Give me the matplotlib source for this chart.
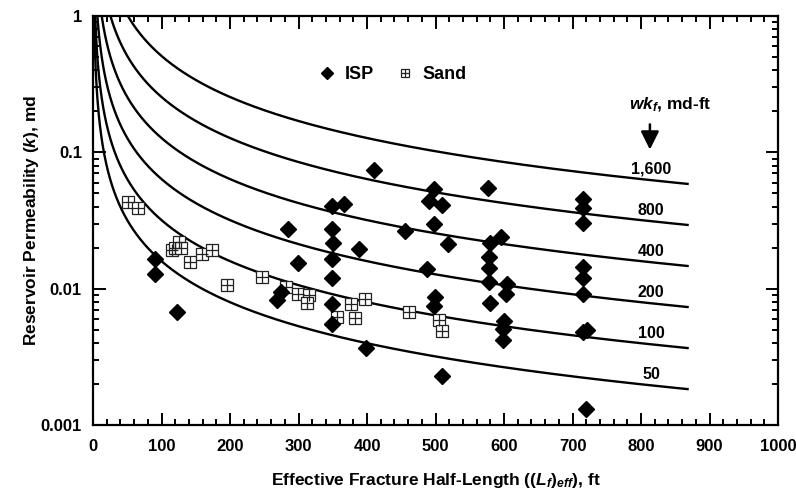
import numpy as np
import matplotlib
matplotlib.use("Agg")
import matplotlib.pyplot as plt

plt.rcParams['font.family'] = ['Liberation Sans', 'DejaVu Sans']
plt.rcParams['font.weight'] = 'bold'
plt.rcParams['mathtext.fontset'] = 'custom'
plt.rcParams['mathtext.rm'] = 'Liberation Sans:bold'
plt.rcParams['mathtext.it'] = 'Liberation Sans:italic:bold'
plt.rcParams['mathtext.bf'] = 'Liberation Sans:bold'

# ---- data ----
isp_x = [90, 90, 123, 268, 274, 285, 299,
         349, 349, 350, 349, 349, 349, 349,
         366, 389, 398, 410, 455, 488,
         490, 498, 498, 499, 498, 509, 509, 518,
         576, 579, 578, 578, 578, 579,
         596, 605, 603, 600, 598, 599,
         715, 715, 715, 715, 715, 715, 721, 715, 719]
isp_k = [0.0166, 0.0129, 0.0067, 0.0082, 0.0095, 0.0275, 0.0153,
         0.0404, 0.0275, 0.0218, 0.0165, 0.0120, 0.0077, 0.0055,
         0.0420, 0.0194, 0.0037, 0.0740, 0.0266, 0.0139,
         0.0439, 0.0534, 0.0298, 0.0087, 0.0074, 0.0408, 0.0023, 0.0212,
         0.0550, 0.0216, 0.0171, 0.0142, 0.0111, 0.0079,
         0.0240, 0.0108, 0.0091, 0.0058, 0.0051, 0.0042,
         0.0452, 0.0393, 0.0305, 0.0145, 0.0120, 0.0091, 0.0050, 0.0048, 0.00132]

sand_x = [51, 65, 115, 120, 125, 128, 142, 159, 174, 196, 247, 282,
          299, 315, 312, 356, 376, 382, 397, 462, 505, 510]
sand_k = [0.0434, 0.0393, 0.0193, 0.0200, 0.0220, 0.0199, 0.0157, 0.0179, 0.0193, 0.0107,
          0.0122, 0.0102, 0.0092, 0.0090, 0.0079, 0.0062, 0.0077, 0.0061, 0.0084,
          0.0068, 0.0059, 0.0049]

wkf_values = [1600, 800, 400, 200, 100, 50]
wkf_labels = ['1,600', '800', '400', '200', '100', '50']
curve_const = 10 * np.pi     # k = wkf / (10*pi*Lf)
curve_xmax = 868
label_x = 815

x_ticks = [0, 100, 200, 300, 400, 500, 600, 700, 800, 900, 1000]
y_ticks = [0.001, 0.01, 0.1, 1]
y_ticklabels = ['0.001', '0.01', '0.1', '1']

# ---- figure ----
fig = plt.figure(figsize=(7.96, 4.93), dpi=100)
ax = fig.add_axes([93/796, 1 - 425/493, (778 - 93)/796, (425 - 16)/493])

xc = np.linspace(0.5, curve_xmax, 2000)
for w, lab in zip(wkf_values, wkf_labels):
    kc = w / (curve_const * xc)
    ax.plot(xc, kc, color='black', lw=1.7, zorder=2)
    ky = w / (curve_const * label_x) * 1.2
    ax.text(label_x, ky, lab, ha='center', va='center', fontsize=11.5,
            fontweight='bold', zorder=5)

h_isp, = ax.plot(isp_x, isp_k, linestyle='none', marker='D', ms=8,
                 mfc='black', mec='black', zorder=4)
h_sq, = ax.plot(sand_x, sand_k, linestyle='none', marker='s', ms=8,
                mfc='white', mec='#222222', mew=0.9, zorder=3)
h_pl, = ax.plot(sand_x, sand_k, linestyle='none', marker='+', ms=8,
                mec='#222222', mew=0.9, zorder=3)

ax.set_yscale('log')
ax.set_xlim(0, 1000)
ax.set_ylim(0.001, 1)
ax.set_xticks(x_ticks)
ax.set_xticklabels([str(v) for v in x_ticks])
ax.set_xticks(np.arange(0, 1001, 20), minor=True)
ax.set_yticks(y_ticks)
ax.set_yticklabels(y_ticklabels)
ax.yaxis.set_minor_locator(matplotlib.ticker.LogLocator(base=10, subs=np.arange(2, 10)))
ax.yaxis.set_minor_formatter(matplotlib.ticker.NullFormatter())

ax.tick_params(which='both', direction='in', top=True, right=True, width=1.4)
ax.tick_params(which='major', length=9, labelsize=12)
ax.tick_params(axis='x', which='major', pad=10)
ax.tick_params(axis='y', which='major', pad=8)
ax.tick_params(which='minor', length=4.5)
for lab in ax.get_xticklabels() + ax.get_yticklabels():
    lab.set_fontweight('bold')
for s in ax.spines.values():
    s.set_linewidth(1.6)

ax.set_xlabel(r'Effective Fracture Half-Length (($\it{L}_{\it{f}}$)$_{\it{eff}}$), ft',
              fontsize=12.5, fontweight='bold', labelpad=12)
ax.set_ylabel(r'Reservoir Permeability ($\it{k}$), md', fontsize=12.5,
              fontweight='bold', labelpad=0)

ax.legend([h_isp, (h_sq, h_pl)], ['ISP', 'Sand'], loc='center',
          bbox_to_anchor=(0.437, 0.857), ncol=2, frameon=False,
          prop={'weight': 'bold', 'size': 13}, handlelength=1.0,
          handletextpad=0.5, columnspacing=1.2, markerscale=0.8)

ax.text(843, 0.225, r'$\it{wk}_{\it{f}}$, md-ft', ha='center', va='center',
        fontsize=12.5, fontweight='bold')
ax.annotate('', xy=(813, 0.100), xytext=(813, 0.168),
            arrowprops=dict(arrowstyle='-|>,head_width=0.55,head_length=1.1',
                            color='black', lw=1.8))

fig.savefig('out.png', dpi=100)
